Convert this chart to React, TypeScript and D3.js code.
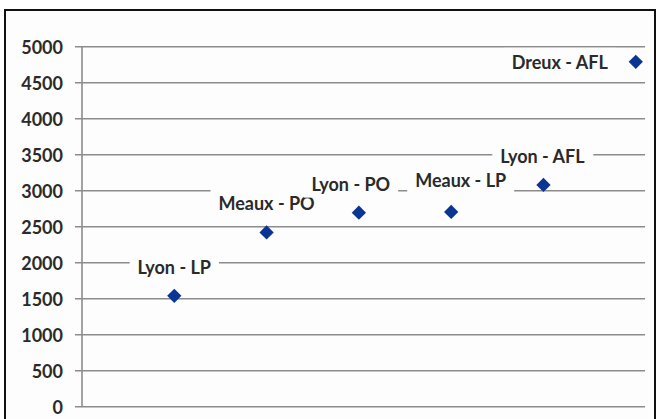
import React, { useEffect, useRef } from "react";
import * as d3 from "d3";

const categories = ["Lyon - LP", "Meaux - PO", "Lyon - PO", "Meaux - LP", "Lyon - AFL", "Dreux - AFL"];
const xValues = [1, 2, 3, 4, 5, 6];
const yValues = [1540, 2420, 2695, 2705, 3080, 4790];
const yTicks = [0, 500, 1000, 1500, 2000, 2500, 3000, 3500, 4000, 4500, 5000];

// label placement relative to its point (layout, not data)
const labelLayout: { dx: number; dy: number; anchor: string }[] = [
  { dx: 0, dy: -29, anchor: "middle" },
  { dx: 0, dy: -29, anchor: "middle" },
  { dx: -8, dy: -29, anchor: "middle" },
  { dx: 9.5, dy: -31.5, anchor: "middle" },
  { dx: -1, dy: -28.5, anchor: "middle" },
  { dx: -28, dy: 0, anchor: "end" },
];

const W = 659;
const H = 419;
const FONT = "Lato, 'Open Sans', sans-serif";

export default function App() {
  const ref = useRef<SVGSVGElement>(null);

  useEffect(() => {
    const svg = d3.select(ref.current);
    svg.selectAll("*").remove();

    svg.append("rect").attr("x", 0).attr("y", 0).attr("width", W).attr("height", H).attr("fill", "#ffffff");
    // frame
    svg.append("rect")
      .attr("x", 5).attr("y", 10).attr("width", 650).attr("height", H + 20)
      .attr("fill", "#fdfdfd").attr("stroke", "#111").attr("stroke-width", 2);

    const x = d3.scaleLinear().domain([0, 6.1]).range([82, 645]);
    const y = d3.scaleLinear().domain([0, 5000]).range([406.7, 46.7]);

    const grid = svg.append("g");
    yTicks.forEach((t) => {
      grid.append("line")
        .attr("x1", 75).attr("x2", x(6.1))
        .attr("y1", y(t)).attr("y2", y(t))
        .attr("stroke", "#8c8c8c").attr("stroke-width", 1.6);
      grid.append("text")
        .attr("x", 63).attr("y", y(t))
        .attr("text-anchor", "end").attr("dominant-baseline", "central")
        .attr("font-family", FONT).attr("font-weight", 700).attr("font-size", 18)
        .attr("fill", "#2a2a2a")
        .text(String(t));
    });
    grid.append("line")
      .attr("x1", x(0)).attr("x2", x(0))
      .attr("y1", y(5000)).attr("y2", y(0))
      .attr("stroke", "#8c8c8c").attr("stroke-width", 1.6);

    // labels
    const lg = svg.append("g");
    categories.forEach((c, i) => {
      const L = labelLayout[i];
      const px = x(xValues[i]) + L.dx;
      const py = y(yValues[i]) + L.dy;
      const g = lg.append("g");
      const rect = g.append("rect").attr("fill", "#fdfdfd");
      const txt = g.append("text")
        .attr("x", px).attr("y", py)
        .attr("text-anchor", L.anchor).attr("dominant-baseline", "central")
        .attr("font-family", FONT).attr("font-weight", 700).attr("font-size", 18)
        .attr("fill", "#2a2a2a")
        .text(c);
      const bb = (txt.node() as SVGTextElement).getBBox();
      rect.attr("x", bb.x - 8).attr("width", bb.width + 16)
        .attr("y", py - 14).attr("height", 28);
    });

    // points
    const sym = d3.symbol().type(d3.symbolDiamond2).size(130);
    svg.append("g").selectAll("path")
      .data(yValues)
      .join("path")
      .attr("d", sym as any)
      .attr("transform", (v, i) => `translate(${x(xValues[i])},${y(v)}) rotate(0)`)
      .attr("fill", "#0b3592");
  }, []);

  return (
    <svg
      ref={ref}
      width={W}
      height={H}
      style={{ position: "absolute", left: 0, top: 0, display: "block" }}
    />
  );
}
